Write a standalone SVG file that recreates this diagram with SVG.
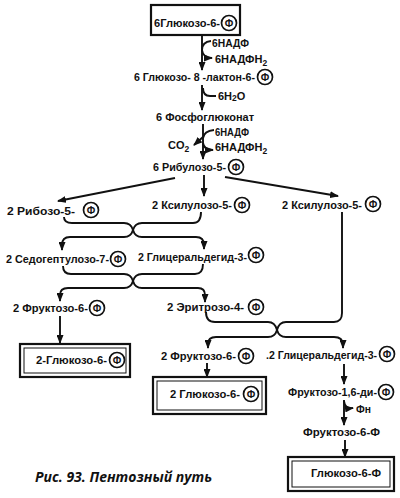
<svg xmlns="http://www.w3.org/2000/svg" width="400" height="498" viewBox="0 0 400 498">
<defs>
<marker id="ah" markerUnits="userSpaceOnUse" markerWidth="9" markerHeight="7" refX="8" refY="3.5" orient="auto">
<path d="M0,0 L9,3.5 L0,7 z" fill="#111"/>
</marker>
<style>
.t{font-family:"Liberation Sans",Arial,sans-serif;font-weight:bold;font-size:11px;fill:#111}
.s{font-size:8.5px}
.c{fill:#fff;stroke:#111;stroke-width:1.7}
.f{font-family:"Liberation Sans",Arial,sans-serif;font-weight:bold;font-size:10px;fill:#111;text-anchor:middle}
.ln{fill:none;stroke:#111;stroke-width:1.9}
.bx{fill:none;stroke:#111;stroke-width:2.2}
.bi{fill:none;stroke:#111;stroke-width:1}
.cap{font-family:"Open Sans","Noto Sans",sans-serif;font-weight:bold;font-style:italic;font-size:14px;fill:#111}
</style>
</defs>
<rect width="400" height="498" fill="#fff"/>

<g id="connectors">
<path class="ln" d="M202 35 L202 70" marker-end="url(#ah)"/>
<path class="ln" d="M211 41 Q202 42 202 50 Q203 58 212 58" marker-end="url(#ah)"/>
<path class="ln" d="M202 85 L202 110" marker-end="url(#ah)"/>
<path class="ln" d="M203 88 Q203 96 210 96 L216 96"/>
<path class="ln" d="M203 124 L203 159" marker-end="url(#ah)"/>
<path class="ln" d="M214 130 Q204 131 203 138"/>
<path class="ln" d="M203 137 L194 145" marker-end="url(#ah)"/>
<path class="ln" d="M203 143 Q204 150 213 150" marker-end="url(#ah)"/>
<path class="ln" d="M175 178 L58 201" marker-end="url(#ah)"/>
<path class="ln" d="M204 175 L204 196" marker-end="url(#ah)"/>
<path class="ln" d="M225 177 L338 196" marker-end="url(#ah)"/>
<path class="ln" d="M64 217 Q64 223 72 223 L124 223 Q131 223 133 230 Q135 237 142 237 L196 237 Q204 237 204 245 L204 249" marker-end="url(#ah)"/>
<path class="ln" d="M201 212 Q201 223 193 223 L142 223 Q135 223 133 230 Q131 237 124 237 L70 237 Q62 237 62 245 L62 250" marker-end="url(#ah)"/>
<path class="ln" d="M63 266 Q63 274 71 274 L124 274 Q131 274 133 281 Q135 288 142 288 L198 288 Q205 288 205 295 L205 302" marker-end="url(#ah)"/>
<path class="ln" d="M203 264 Q203 274 195 274 L142 274 Q135 274 133 281 Q131 288 124 288 L68 288 Q60 288 60 295 L60 301" marker-end="url(#ah)"/>
<path class="ln" d="M60 316 L60 343" marker-end="url(#ah)"/>
<path class="ln" d="M206 312 Q206 322 215 322 L268 322 Q275 322 277 330 Q279 337 286 337 L334 337 Q343 337 343 345 L343 348" marker-end="url(#ah)"/>
<path class="ln" d="M342 212 L342 313 Q342 322 334 322 L286 322 Q279 322 277 330 Q275 337 268 337 L216 337 Q208 337 208 344 L208 348" marker-end="url(#ah)"/>
<path class="ln" d="M207 363 L207 377" marker-end="url(#ah)"/>
<path class="ln" d="M344 364 L344 384" marker-end="url(#ah)"/>
<path class="ln" d="M344 400 L344 425" marker-end="url(#ah)"/>
<path class="ln" d="M344 401 Q345 409 353 408" marker-end="url(#ah)"/>
<path class="ln" d="M345 440 L345 457" marker-end="url(#ah)"/>
</g>

<g id="n-g6p-top">
<rect class="bx" x="151" y="5" width="89" height="30" stroke-width="2.6"/>
<text class="t" x="154" y="27" textLength="66" lengthAdjust="spacingAndGlyphs">6Глюкозо-6-</text>
<circle class="c" cx="229" cy="23" r="7.5"/><text class="f" x="229" y="26.6">Ф</text>
</g>
<g id="n-nadp1"><text class="t" x="212" y="47" textLength="37" lengthAdjust="spacingAndGlyphs">6НАДФ</text></g>
<g id="n-nadph1"><text class="t" x="215" y="63">6НАДФН<tspan class="s" dy="3">2</tspan></text></g>
<g id="n-lacton">
<text class="t" x="134" y="81" textLength="121" lengthAdjust="spacingAndGlyphs">6 Глюкозо- 8 -лактон-6-</text>
<circle class="c" cx="265" cy="77" r="7.5"/><text class="f" x="265" y="80.6">Ф</text>
</g>
<g id="n-h2o"><text class="t" x="218" y="100">6H<tspan class="s" dy="1">2</tspan><tspan dy="-1">O</tspan></text></g>
<g id="n-pgluc"><text class="t" x="156" y="121" textLength="98" lengthAdjust="spacingAndGlyphs">6 Фосфоглюконат</text></g>
<g id="n-nadp2"><text class="t" x="215" y="136" textLength="34" lengthAdjust="spacingAndGlyphs">6НАДФ</text></g>
<g id="n-co2"><text class="t" x="168" y="149" font-size="12.5">CO<tspan class="s" dy="3">2</tspan></text></g>
<g id="n-nadph2"><text class="t" x="215" y="151">6НАДФН<tspan class="s" dy="3">2</tspan></text></g>
<g id="n-ribulose">
<text class="t" x="153" y="171" textLength="73" lengthAdjust="spacingAndGlyphs">6 Рибулозо-5-</text>
<circle class="c" cx="236" cy="167" r="7.5"/><text class="f" x="236" y="170.6">Ф</text>
</g>
<g id="n-ribose">
<text class="t" x="7" y="215" textLength="68" lengthAdjust="spacingAndGlyphs">2 Рибозо-5-</text>
<circle class="c" cx="91" cy="210" r="7.5"/><text class="f" x="91" y="213.6">Ф</text>
</g>
<g id="n-xyl1">
<text class="t" x="152" y="209" textLength="80" lengthAdjust="spacingAndGlyphs">2 Ксилулозо-5-</text>
<circle class="c" cx="242" cy="205" r="7.5"/><text class="f" x="242" y="208.6">Ф</text>
</g>
<g id="n-xyl2">
<text class="t" x="282" y="209" textLength="80" lengthAdjust="spacingAndGlyphs">2 Ксилулозо-5-</text>
<circle class="c" cx="373" cy="204" r="7.5"/><text class="f" x="373" y="207.6">Ф</text>
</g>
<g id="n-sedo">
<text class="t" x="6" y="263" textLength="103" lengthAdjust="spacingAndGlyphs">2 Седогептулозо-7-</text>
<circle class="c" cx="118" cy="259" r="7.5"/><text class="f" x="118" y="262.6">Ф</text>
</g>
<g id="n-gald1">
<text class="t" x="138" y="261" textLength="109" lengthAdjust="spacingAndGlyphs">2 Глицеральдегид-3-</text>
<circle class="c" cx="256" cy="255" r="7.5"/><text class="f" x="256" y="258.6">Ф</text>
</g>
<g id="n-fru1">
<text class="t" x="13" y="312" textLength="75" lengthAdjust="spacingAndGlyphs">2 Фруктозо-6-</text>
<circle class="c" cx="97" cy="308" r="7.5"/><text class="f" x="97" y="311.6">Ф</text>
</g>
<g id="n-ery">
<text class="t" x="167" y="311" textLength="77" lengthAdjust="spacingAndGlyphs">2 Эритрозо-4-</text>
<circle class="c" cx="256" cy="307" r="7.5"/><text class="f" x="256" y="310.6">Ф</text>
</g>
<g id="n-g6p-left">
<rect class="bx" x="20" y="344" width="110" height="33"/>
<rect class="bi" x="24" y="348" width="102" height="25"/>
<text class="t" x="36" y="364" textLength="71" lengthAdjust="spacingAndGlyphs">2-Глюкозо-6-</text>
<circle class="c" cx="117" cy="360" r="7.5"/><text class="f" x="117" y="363.6">Ф</text>
</g>
<g id="n-fru2">
<text class="t" x="161" y="360" textLength="75" lengthAdjust="spacingAndGlyphs">2 Фруктозо-6-</text>
<circle class="c" cx="246" cy="356" r="7.5"/><text class="f" x="246" y="359.6">Ф</text>
</g>
<g id="n-gald2">
<text class="t" x="266" y="359" textLength="111" lengthAdjust="spacingAndGlyphs">.2 Глицеральдегид-3-</text>
<circle class="c" cx="387" cy="354" r="7.5"/><text class="f" x="387" y="357.6">Ф</text>
</g>
<g id="n-g6p-mid">
<rect class="bx" x="153" y="377" width="113" height="37"/>
<rect class="bi" x="157" y="381" width="105" height="29"/>
<text class="t" x="170" y="398" textLength="70" lengthAdjust="spacingAndGlyphs">2 Глюкозо-6-</text>
<circle class="c" cx="251" cy="394" r="7.5"/><text class="f" x="251" y="397.6">Ф</text>
</g>
<g id="n-fbp">
<text class="t" x="288" y="396" textLength="89" lengthAdjust="spacingAndGlyphs">Фруктозо-1,6-ди-</text>
<circle class="c" cx="386" cy="392" r="7.5"/><text class="f" x="386" y="395.6">Ф</text>
</g>
<g id="n-pn"><text class="t" x="356" y="413" textLength="15" lengthAdjust="spacingAndGlyphs">Фн</text></g>
<g id="n-f6p"><text class="t" x="303" y="436" textLength="77" lengthAdjust="spacingAndGlyphs">Фруктозо-6-Ф</text></g>
<g id="n-g6p-right">
<rect class="bx" x="288" y="457" width="106" height="34"/>
<rect class="bi" x="292" y="461" width="98" height="26"/>
<text class="t" x="311" y="477" textLength="70" lengthAdjust="spacingAndGlyphs">Глюкозо-6-Ф</text>
</g>
<g id="caption"><text class="cap" x="35" y="482">Рис. 93. Пентозный путь</text></g>
</svg>
